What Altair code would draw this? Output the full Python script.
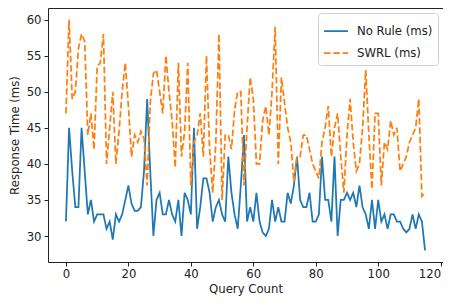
import altair as alt
import pandas as pd

query_count = list(range(116))

no_rule = [
    32, 45, 39, 34, 34, 45, 39, 33, 35, 32,
    33, 33, 33, 31, 32, 29.5, 33, 32, 33, 35,
    37, 34.5, 33.5, 33.5, 34, 39, 49, 39, 30, 35,
    36, 33, 33, 35, 33, 32, 35, 30, 36, 35,
    33, 45, 31, 34, 38, 38, 36, 32, 34, 35,
    33, 32, 41, 36, 33, 31, 37, 44, 32, 34,
    32, 36, 32, 30.5, 30, 31, 35, 32, 34, 32,
    32, 36, 34.5, 37, 41, 35, 34, 34, 36, 32,
    32, 33, 41, 35, 35, 32, 41, 30, 35, 35,
    36, 35, 36, 34, 37, 34, 33, 31, 35, 31,
    35, 32, 33, 31, 33, 33, 32, 32, 31, 30.5,
    31, 33, 31, 33, 32, 28,
]

swrl = [
    47, 60, 49, 50, 56, 58, 57, 44, 47, 42,
    53.5, 54, 58, 40, 45, 50, 40, 44.5, 50, 54,
    48, 41, 44, 43, 44.5, 43.5, 37, 48.5, 52.5, 53,
    50, 47, 55, 50, 46, 39.5, 54, 41, 44.5, 54,
    37, 43, 44, 47, 41, 55, 42, 36, 43, 58,
    35, 44, 44, 42, 47.5, 50, 50, 37, 45, 52,
    49, 40, 40, 46, 48, 44, 50, 59, 40, 52,
    48.5, 45, 43, 37.5, 41, 41, 44, 44, 42, 40,
    39, 38, 43, 45, 48, 41, 45, 47, 41, 36,
    44, 49, 43, 39, 40, 45, 53, 44, 36.5, 47,
    47, 37, 43, 42, 46, 44, 45, 39, 40, 41,
    43, 44, 45, 49, 35.5, 36,
]

series_names = ["No Rule (ms)", "SWRL (ms)"]
series_colors = ["#1f77b4", "#ff7f0e"]
x_ticks = [0, 20, 40, 60, 80, 100, 120]
y_ticks = [30, 35, 40, 45, 50, 55, 60]

df = pd.DataFrame({
    "Query Count": query_count + query_count,
    "value": no_rule + swrl,
    "series": [series_names[0]] * len(no_rule) + [series_names[1]] * len(swrl),
})

FONT = "DejaVu Sans"
FS = 11.7

chart = alt.Chart(df).mark_line(strokeWidth=1.75).encode(
    x=alt.X(
        "Query Count:Q",
        title="Query Count",
        scale=alt.Scale(domain=[-5.75, 120.75], nice=False, zero=False),
        axis=alt.Axis(values=x_ticks, grid=False, domain=False, tickSize=4,
                      labelPadding=2, titlePadding=4, labelFlush=5),
    ),
    y=alt.Y(
        "value:Q",
        title="Response Time (ms)",
        scale=alt.Scale(domain=[26.4, 61.6], nice=False, zero=False),
        axis=alt.Axis(values=y_ticks, grid=False, domain=False, tickSize=4,
                      labelPadding=3, titlePadding=6, labelFlush=False),
    ),
    color=alt.Color(
        "series:N", title=None,
        scale=alt.Scale(domain=series_names, range=series_colors),
    ),
    strokeDash=alt.StrokeDash(
        "series:N", title=None,
        scale=alt.Scale(domain=series_names, range=[[1, 0], [6.5, 2.8]]),
    ),
    order=alt.Order("Query Count:Q"),
).properties(
    width=395,
    height=254,
    autosize=alt.AutoSizeParams(type="none"),
    padding={"left": 40, "top": 0, "right": 0, "bottom": 36},
).configure_view(
    stroke="#222222", strokeWidth=1
).configure_axis(
    labelFont=FONT, titleFont=FONT, labelFontSize=FS, titleFontSize=FS,
    labelColor="#222222", titleColor="#222222", titleFontWeight="normal",
    tickColor="#222222", tickWidth=1,
).configure_legend(
    orient="top-right", offset=5, padding=5,
    strokeColor="#d0d0d0", fillColor="white", cornerRadius=3,
    labelFont=FONT, labelFontSize=FS, labelColor="#222222",
    symbolType="stroke", symbolSize=576, symbolStrokeWidth=1.75,
    labelOffset=8, rowPadding=2,
)

chart.save("out.html", embed_options={"renderer": "svg", "actions": False})
